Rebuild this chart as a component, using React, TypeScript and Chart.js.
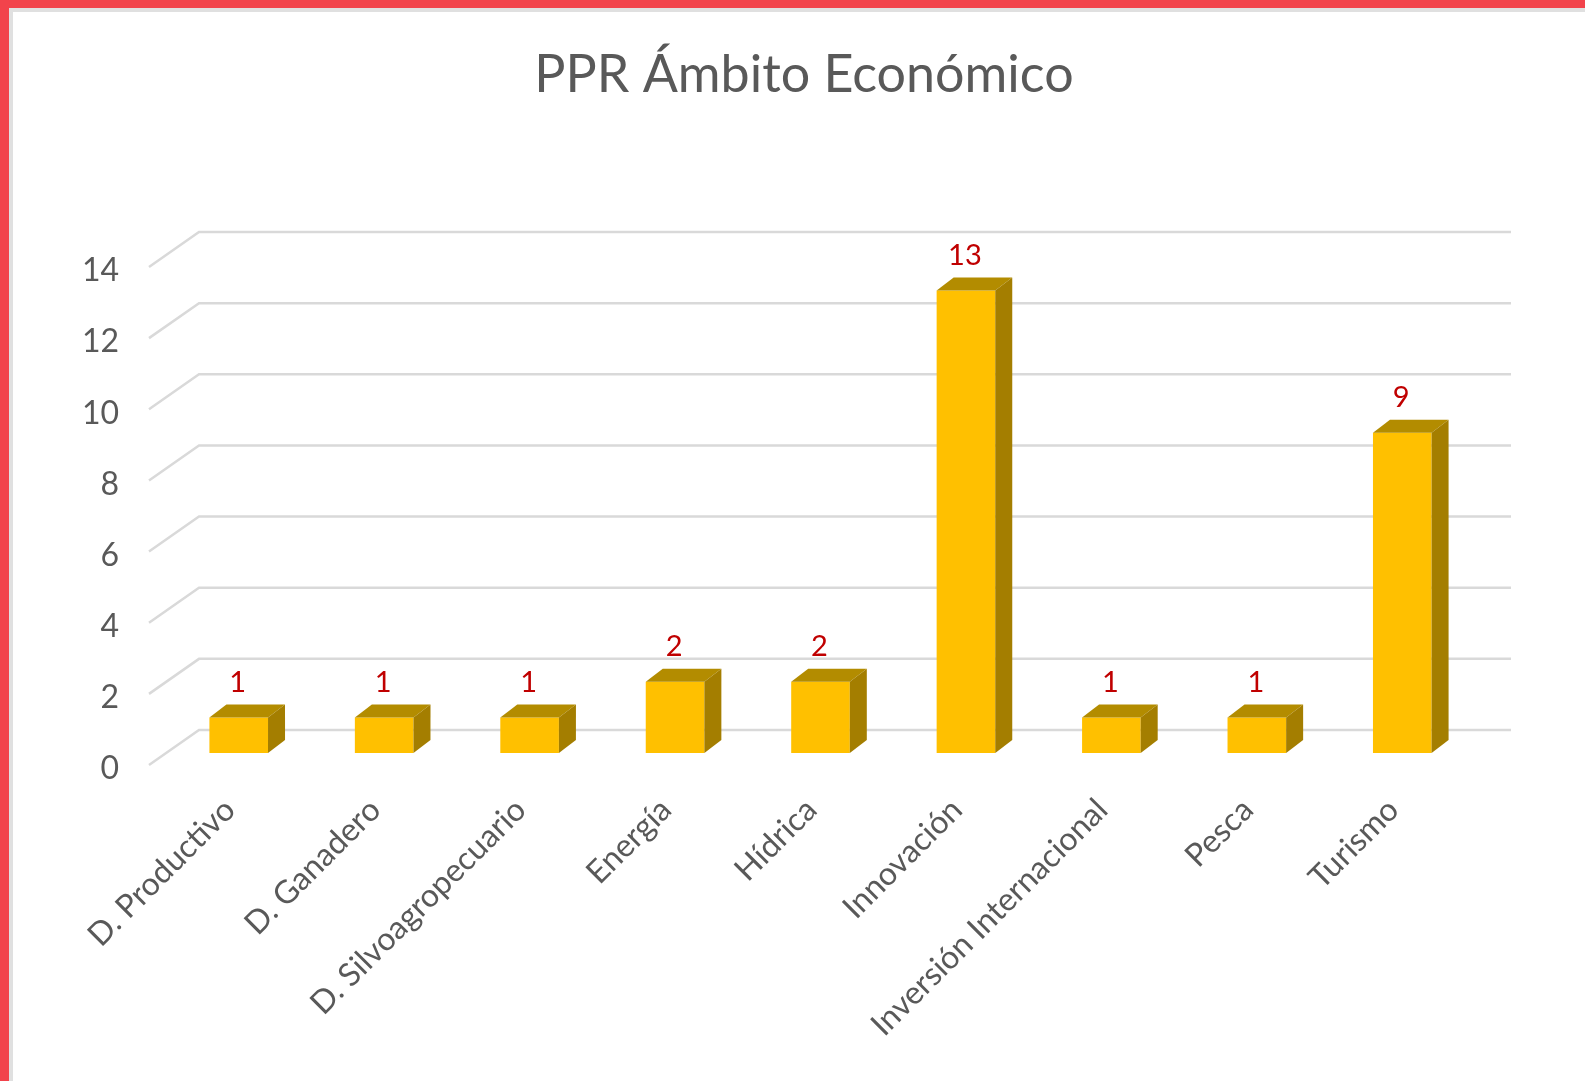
import React, { useEffect, useRef } from "react";
import { Chart, registerables } from "chart.js";

Chart.register(...registerables);

const TITLE = "PPR Ámbito Económico";
const categories = [
  "D. Productivo",
  "D. Ganadero",
  "D. Silvoagropecuario",
  "Energía",
  "Hídrica",
  "Innovación",
  "Inversión Internacional",
  "Pesca",
  "Turismo",
];
const values = [1, 1, 1, 2, 2, 13, 1, 1, 9];
const yTicks = [0, 2, 4, 6, 8, 10, 12, 14];

const FONT = "Lato, 'Open Sans', sans-serif";
const TEXT_GRAY = "#595959";
const DEPTH_X = 17;
const DEPTH_Y = -13;

const poly = (ctx: CanvasRenderingContext2D, pts: number[][], fill: string) => {
  ctx.beginPath();
  ctx.moveTo(pts[0][0], pts[0][1]);
  for (let i = 1; i < pts.length; i++) ctx.lineTo(pts[i][0], pts[i][1]);
  ctx.closePath();
  ctx.fillStyle = fill;
  ctx.fill();
};

const threeD = {
  id: "threeD",
  beforeDatasetsDraw(chart: any) {
    const { ctx, chartArea, scales } = chart;
    const ys = scales.y;
    ctx.save();
    // chart title
    ctx.fillStyle = TEXT_GRAY;
    ctx.font = `52px ${FONT}`;
    ctx.textAlign = "center";
    ctx.textBaseline = "alphabetic";
    ctx.fillText(TITLE, 804, 92);
    // back wall + side wall gridlines
    ctx.strokeStyle = "#D9D9D9";
    ctx.lineWidth = 2.5;
    for (const v of yTicks) {
      const py = ys.getPixelForValue(v);
      const by = py - 23;
      ctx.beginPath();
      ctx.moveTo(chartArea.left - 17, py + 12);
      ctx.lineTo(chartArea.left + 33, by);
      ctx.lineTo(chartArea.right + 36, by);
      ctx.stroke();
    }
    ctx.restore();
  },
  afterDatasetsDraw(chart: any) {
    const { ctx } = chart;
    const meta = chart.getDatasetMeta(0);
    ctx.save();
    meta.data.forEach((bar: any, i: number) => {
      const { x, y, base, width } = bar.getProps(["x", "y", "base", "width"], true);
      const l = x - width / 2;
      const r = x + width / 2;
      poly(ctx, [[l, y], [l + DEPTH_X, y + DEPTH_Y], [r + DEPTH_X, y + DEPTH_Y], [r, y]], "#B38C00");
      poly(ctx, [[r, y], [r + DEPTH_X, y + DEPTH_Y], [r + DEPTH_X, base + DEPTH_Y], [r, base]], "#A47E00");
      ctx.fillStyle = "#C00000";
      ctx.font = `29px ${FONT}`;
      ctx.textAlign = "center";
      ctx.textBaseline = "middle";
      ctx.fillText(String(values[i]), x - 1, y - 35);
    });
    ctx.restore();
  },
};

export default function App() {
  const ref = useRef<HTMLCanvasElement | null>(null);

  useEffect(() => {
    if (!ref.current) return;
    const chart = new Chart(ref.current, {
      type: "bar",
      data: {
        labels: categories,
        datasets: [
          {
            data: values,
            backgroundColor: "#FFC000",
            borderWidth: 0,
            barPercentage: 1,
            categoryPercentage: 0.403,
          },
        ],
      },
      options: {
        responsive: false,
        animation: false,
        devicePixelRatio: 1,
        layout: { padding: { left: 0, right: 110, top: 255, bottom: 0 } },
        plugins: {
          legend: { display: false },
          tooltip: { enabled: false },
          title: { display: false },
        },
        scales: {
          x: {
            grid: { display: false, drawTicks: false },
            border: { display: false },
            ticks: {
              autoSkip: false,
              minRotation: 45,
              maxRotation: 45,
              padding: 38,
              labelOffset: -9,
              color: TEXT_GRAY,
              font: { family: FONT, size: 32 },
            },
            afterFit(scale: any) {
              scale.height = 328;
            },
          },
          y: {
            min: 0,
            max: 14,
            grid: { display: false, drawTicks: false },
            border: { display: false },
            ticks: {
              stepSize: 2,
              padding: 47,
              labelOffset: 16,
              color: TEXT_GRAY,
              font: { family: FONT, size: 32 },
            },
            afterFit(scale: any) {
              scale.width = 166;
            },
          },
        },
      },
      plugins: [threeD],
    });
    return () => chart.destroy();
  }, []);

  return (
    <div
      style={{
        position: "fixed",
        left: 0,
        top: 0,
        width: 1585,
        height: 1081,
        background: "#FFFFFF",
        overflow: "hidden",
      }}
    >
      <div
        style={{
          position: "absolute",
          left: 0,
          top: 0,
          right: 0,
          bottom: 0,
          borderTop: "8px solid #F2434B",
          borderLeft: "9px solid #F2434B",
        }}
      />
      <div
        style={{
          position: "absolute",
          left: 9,
          top: 8,
          right: 0,
          bottom: 0,
          borderTop: "4px solid #E0E0E0",
          borderLeft: "4px solid #E0E0E0",
        }}
      />
      <canvas
        ref={ref}
        width={1585}
        height={1081}
        style={{ position: "absolute", left: 0, top: 0, width: 1585, height: 1081 }}
      />
    </div>
  );
}
